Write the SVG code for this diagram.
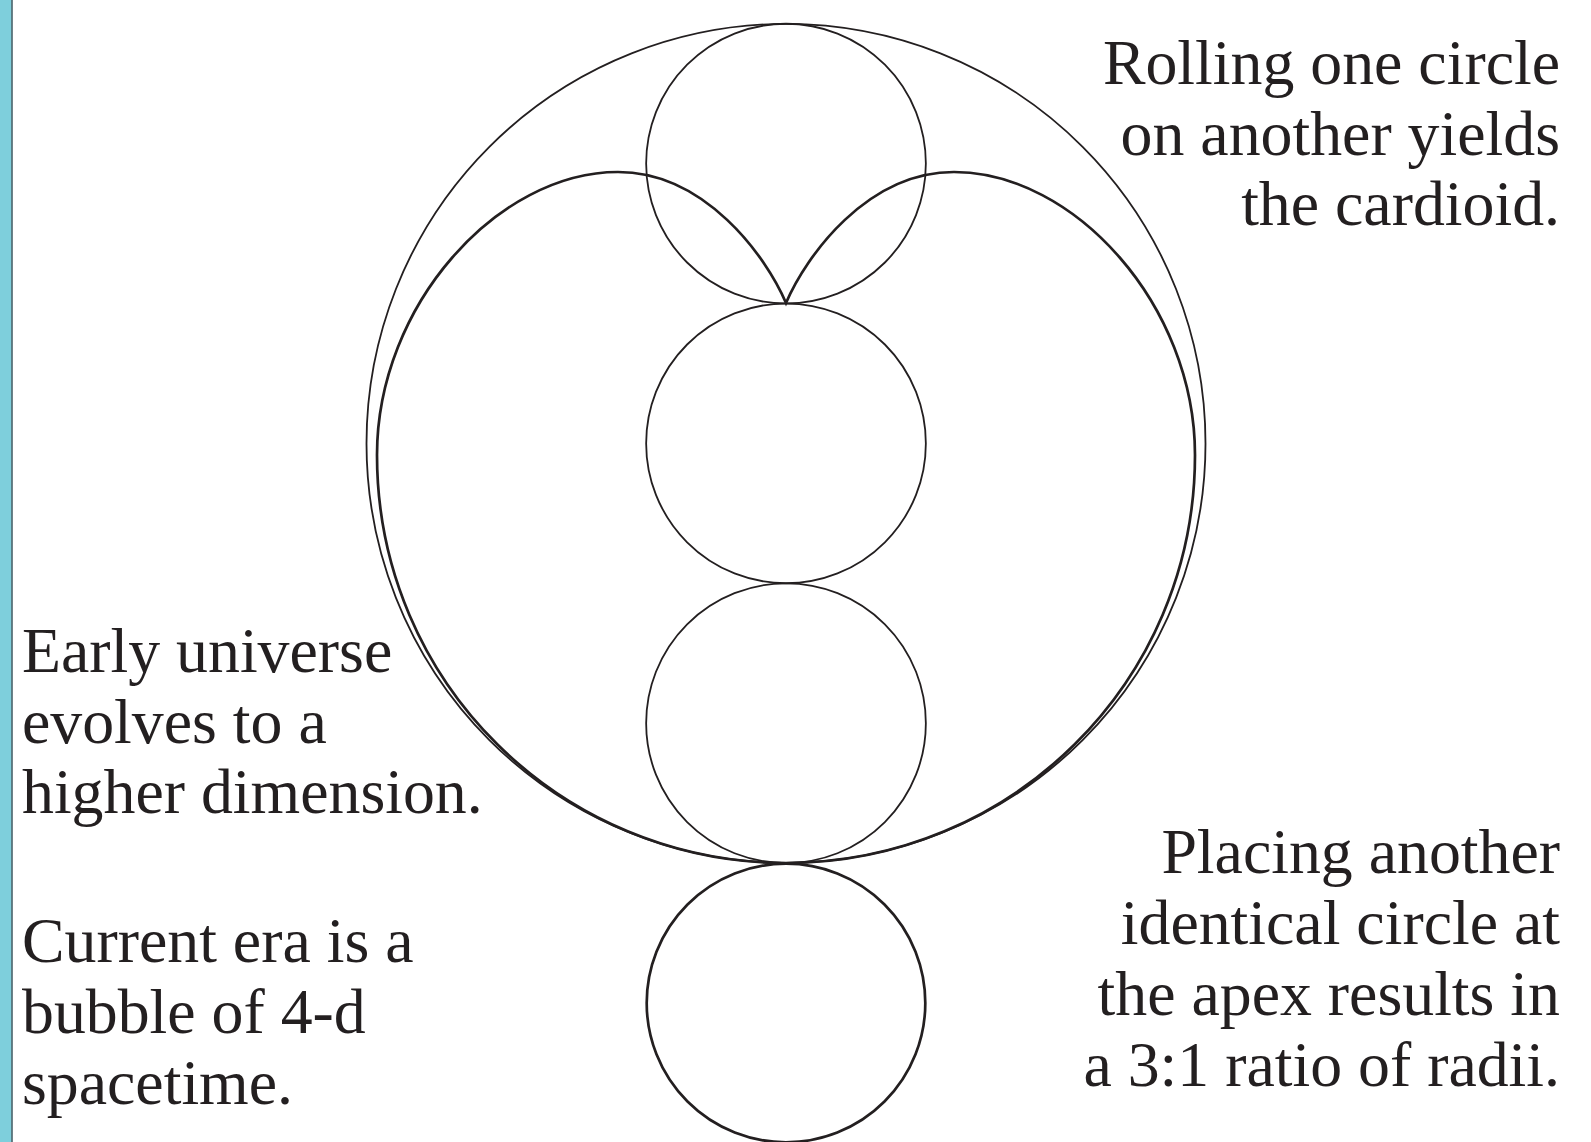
<svg xmlns="http://www.w3.org/2000/svg" width="1591" height="1142" viewBox="0 0 1591 1142">
<style>
.c{fill:none;stroke:#231f20;stroke-width:1.8}
.thick{fill:none;stroke:#231f20;stroke-width:2.7}
.t{font-family:"Liberation Serif","Times New Roman",serif;font-size:63.8px;fill:#231f20}
.r{text-anchor:end}
</style>
<rect x="0" y="0" width="1591" height="1142" fill="#ffffff"/>
<g id="sidebar">
<rect x="0" y="0" width="11.5" height="1142" fill="#7ecfdc"/>
<line x1="12" y1="0" x2="12" y2="1142" stroke="#2d4c55" stroke-width="1.4"/>
</g>
<g id="big-circle"><circle class="c" cx="786" cy="443.4" r="419.5"/></g>
<g id="circle-top"><circle class="c" cx="786" cy="163.6" r="139.85"/></g>
<g id="circle-fixed"><circle class="c" cx="786" cy="443.4" r="139.85"/></g>
<g id="circle-third"><circle class="c" cx="786" cy="723.2" r="139.85"/></g>
<g id="circle-bottom"><circle class="thick" cx="786" cy="1003" r="139.3"/></g>
<g id="cardioid">
<path class="thick" stroke-linejoin="miter" d="M786,303 C766,256 705,172 618,172 C498,172 377,305 377,455 C377,683 562,863 786,863 C1010,863 1195,683 1195,455 C1195,305 1074,172 954,172 C867,172 806,256 786,303 Z"/>
</g>
<g id="text-top-right" class="t r">
<text x="1560" y="84">Rolling one circle</text>
<text x="1560" y="155">on another yields</text>
<text x="1560" y="225">the cardioid.</text>
</g>
<g id="text-left-1" class="t">
<text x="22" y="672">Early universe</text>
<text x="22" y="742.5">evolves to a</text>
<text x="22" y="813">higher dimension.</text>
</g>
<g id="text-left-2" class="t">
<text x="22" y="962">Current era is a</text>
<text x="22" y="1033">bubble of 4-d</text>
<text x="22" y="1104">spacetime.</text>
</g>
<g id="text-bottom-right" class="t r">
<text x="1560" y="873">Placing another</text>
<text x="1560" y="944">identical circle at</text>
<text x="1560" y="1015">the apex results in</text>
<text x="1560" y="1086">a 3:1 ratio of radii.</text>
</g>
</svg>
